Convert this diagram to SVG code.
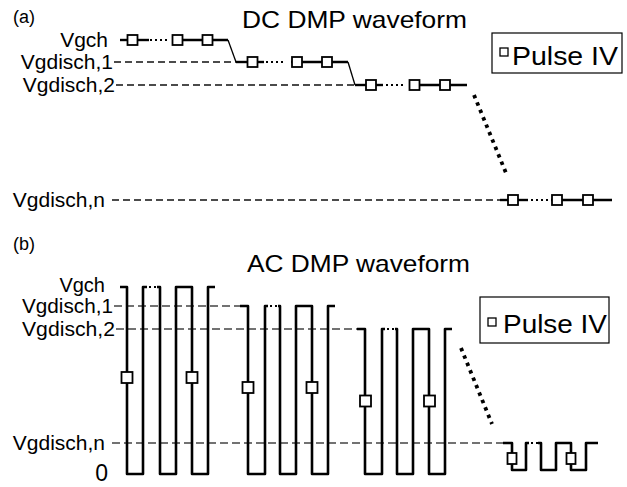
<svg xmlns="http://www.w3.org/2000/svg" width="627" height="487" viewBox="0 0 627 487">
<style>
  text { font-family: "Liberation Sans", Arial, sans-serif; fill: #000; }
  .lbl { font-size: 21px; }
  .lblb { font-size: 20px; }
  .title { font-size: 24px; }
  .tag { font-size: 18px; }
  .leg { font-size: 25px; }
  .w { fill: none; stroke: #000; stroke-width: 2.4; }
  .thin { fill: none; stroke: #000; stroke-width: 1.3; }
  .dots { fill: none; stroke: #000; stroke-width: 2.2; stroke-dasharray: 2 3; }
  .sq { fill: #fff; stroke: #000; stroke-width: 1.8; }
  .dash { fill: none; stroke: #111; stroke-width: 1.3; stroke-dasharray: 7 4; }
  .dashb { fill: none; stroke: #444; stroke-width: 1.6; stroke-dasharray: 8 4; }
  .ac { fill: none; stroke: #000; stroke-width: 2.6; stroke-linejoin: round; }
  .slant { fill: none; stroke: #000; stroke-width: 3.8; stroke-dasharray: 3.5 4.5; }
  .box { fill: #fff; stroke: #000; stroke-width: 1.2; }
</style>

<!-- ============ (a) DC DMP waveform ============ -->
<g id="panel-a-labels">
  <text class="tag" x="13" y="23">(a)</text>
  <text class="title" x="242" y="28" textLength="225" lengthAdjust="spacingAndGlyphs">DC DMP waveform</text>
  <text class="lbl" x="108" y="47" text-anchor="end">Vgch</text>
  <text class="lbl" x="113" y="69" text-anchor="end">Vgdisch,1</text>
  <text class="lbl" x="115" y="92" text-anchor="end">Vgdisch,2</text>
  <text class="lbl" x="105" y="207" text-anchor="end">Vgdisch,n</text>
</g>

<g id="connectors-a">
  <path class="dash" d="M114,62 H236"/>
  <path class="dash" d="M116,85 H355"/>
  <path class="dash" d="M112,200 H500"/>
  <path class="slant" d="M474,95 L506,173"/>
</g>

<g id="dc-level-vgch">
  <path class="w" d="M120,40 H149"/>
  <path class="dots" d="M150,40 H167"/>
  <path class="w" d="M172,40 H228"/>
  <path class="thin" d="M228,40 L236,62"/>
  <rect class="sq" x="127.5" y="35" width="10" height="10"/>
  <rect class="sq" x="172.5" y="35" width="10" height="10"/>
  <rect class="sq" x="202.5" y="35" width="10" height="10"/>
</g>
<g id="dc-level-1">
  <path class="w" d="M236,62 H264"/>
  <path class="dots" d="M266,62 H283"/>
  <path class="w" d="M291,62 H348"/>
  <path class="thin" d="M348,62 L355,85"/>
  <rect class="sq" x="247.5" y="57" width="10" height="10"/>
  <rect class="sq" x="292" y="57" width="10" height="10"/>
  <rect class="sq" x="322" y="57" width="10" height="10"/>
</g>
<g id="dc-level-2">
  <path class="w" d="M355,85 H383"/>
  <path class="dots" d="M386,85 H403"/>
  <path class="w" d="M409,85 H467"/>
  <rect class="sq" x="366" y="80" width="10" height="10"/>
  <rect class="sq" x="409.5" y="80" width="10" height="10"/>
  <rect class="sq" x="440" y="80" width="10" height="10"/>
</g>
<g id="dc-level-n">
  <path class="w" d="M500,200 H528"/>
  <path class="dots" d="M531,200 H548"/>
  <path class="w" d="M551,200 H612"/>
  <rect class="sq" x="508" y="195" width="10" height="10"/>
  <rect class="sq" x="552" y="195" width="10" height="10"/>
  <rect class="sq" x="583" y="195" width="10" height="10"/>
</g>

<g id="legend-a">
  <rect class="box" x="492" y="33" width="130" height="40"/>
  <rect class="sq" x="500" y="48" width="8" height="8" style="stroke-width:1.3"/>
  <text class="leg" x="512" y="65" textLength="106" lengthAdjust="spacingAndGlyphs">Pulse IV</text>
</g>

<!-- ============ (b) AC DMP waveform ============ -->
<g id="panel-b-labels">
  <text class="tag" x="13" y="250">(b)</text>
  <text class="title" x="247" y="272" textLength="223" lengthAdjust="spacingAndGlyphs">AC DMP waveform</text>
  <text class="lblb" x="105" y="292" text-anchor="end">Vgch</text>
  <text class="lblb" x="113" y="313" text-anchor="end" textLength="91" lengthAdjust="spacingAndGlyphs">Vgdisch,1</text>
  <text class="lblb" x="115" y="336" text-anchor="end" textLength="93" lengthAdjust="spacingAndGlyphs">Vgdisch,2</text>
  <text class="lbl" x="105" y="450" text-anchor="end">Vgdisch,n</text>
  <text x="108" y="481" text-anchor="end" style="font-size:23px">0</text>
</g>

<g id="connectors-b">
  <path class="dashb" d="M114,306 H240"/>
  <path class="dashb" d="M116,329 H357"/>
  <path class="dashb" d="M112,443 H503"/>
  <path class="slant" d="M461,348 L492,424"/>
</g>

<g id="ac-group-vgch">
  <path class="ac" d="M120,287 H127 V474 H143 V287 H147"/>
  <path class="dots" d="M149,287 H158"/>
  <path class="ac" d="M157,287 H160 V474 H176 V287 H192 V474 H208 V287 H215"/>
  <rect class="sq" x="121.5" y="372" width="11" height="11"/>
  <rect class="sq" x="186.5" y="372" width="11" height="11"/>
</g>
<g id="ac-group-1">
  <path class="ac" d="M240,306 H248 V474 H265 V306 H268"/>
  <path class="dots" d="M270,306 H279"/>
  <path class="ac" d="M278,306 H280 V474 H296 V306 H312 V474 H328 V306 H335"/>
  <rect class="sq" x="242.5" y="382" width="11" height="11"/>
  <rect class="sq" x="306.5" y="382" width="11" height="11"/>
</g>
<g id="ac-group-2">
  <path class="ac" d="M357,329 H365 V474 H382 V329 H385"/>
  <path class="dots" d="M387,329 H396"/>
  <path class="ac" d="M395,329 H397 V474 H413 V329 H429 V474 H445 V329 H452"/>
  <rect class="sq" x="360" y="395.5" width="11" height="11"/>
  <rect class="sq" x="424" y="395.5" width="11" height="11"/>
</g>
<g id="ac-group-n">
  <path class="ac" d="M503,443 H512 V470 H526 V443 H529"/>
  <path class="dots" d="M531,443 H539"/>
  <path class="ac" d="M538,443 H541 V470 H556 V443 H571 V470 H586 V443 H598"/>
  <rect class="sq" x="507.5" y="453" width="9" height="11"/>
  <rect class="sq" x="566.5" y="453" width="9" height="11"/>
</g>

<g id="legend-b">
  <rect class="box" x="480" y="297" width="129" height="46"/>
  <rect class="sq" x="488" y="318" width="8" height="8" style="stroke-width:1.3"/>
  <text class="leg" x="503" y="333" textLength="104" lengthAdjust="spacingAndGlyphs">Pulse IV</text>
</g>
</svg>
